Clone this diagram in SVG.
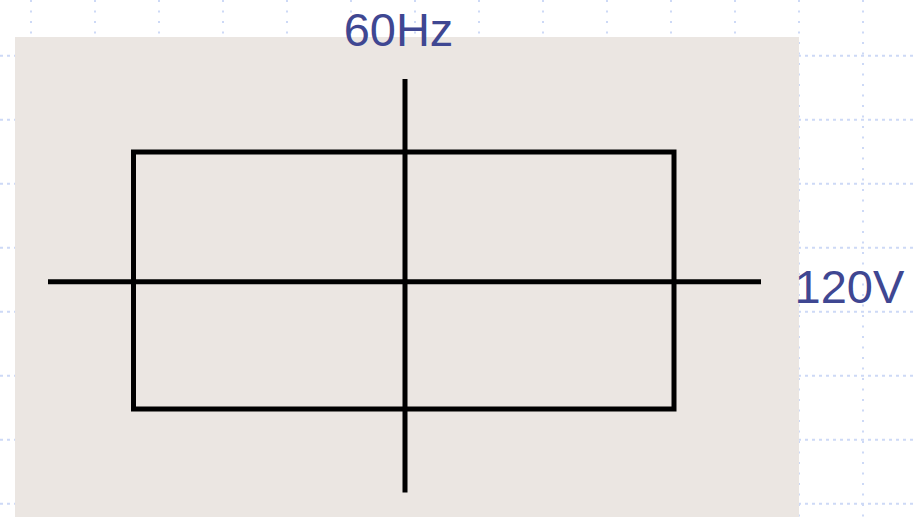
<svg xmlns="http://www.w3.org/2000/svg" width="914" height="517" viewBox="0 0 914 517">
<defs>
<style>
.gv{stroke:#cdd9f6;stroke-width:2;stroke-dasharray:2 8.5;fill:none}
.gh{stroke:#cdd9f6;stroke-width:2;stroke-dasharray:3 4;fill:none}
.ln{stroke:#000;stroke-width:5;fill:none}
.lbl{font-family:"Liberation Sans",Arial,sans-serif;font-size:47px;fill:#3f4792}
</style>
</defs>
<rect width="914" height="517" fill="#fff"/>
<g id="grid">
<path class="gv" d="M31 0V517M95 0V517M159 0V517M223 0V517M287 0V517M351 0V517M415 0V517M479 0V517M543 0V517M607 0V517M671 0V517M735 0V517M799 0V517M863 0V517"/>
<path class="gh" d="M0 55.7H914M0 119.7H914M0 183.7H914M0 247.7H914M0 311.7H914M0 375.7H914M0 439.7H914M0 503.7H914"/>
</g>
<rect id="panel" x="15" y="37" width="784" height="480" fill="#ebe6e2"/>
<g id="box">
<rect class="ln" x="133.5" y="152" width="540.5" height="257"/>
</g>
<g id="connectors">
<line class="ln" x1="48" y1="281.8" x2="761" y2="281.8"/>
<line class="ln" x1="405" y1="79" x2="405" y2="492.5"/>
</g>
<g id="label-60Hz">
<text class="lbl" x="398.5" y="45.5" text-anchor="middle">60Hz</text>
</g>
<g id="label-120V">
<text class="lbl" x="794.5" y="302.5">120V</text>
</g>
</svg>
